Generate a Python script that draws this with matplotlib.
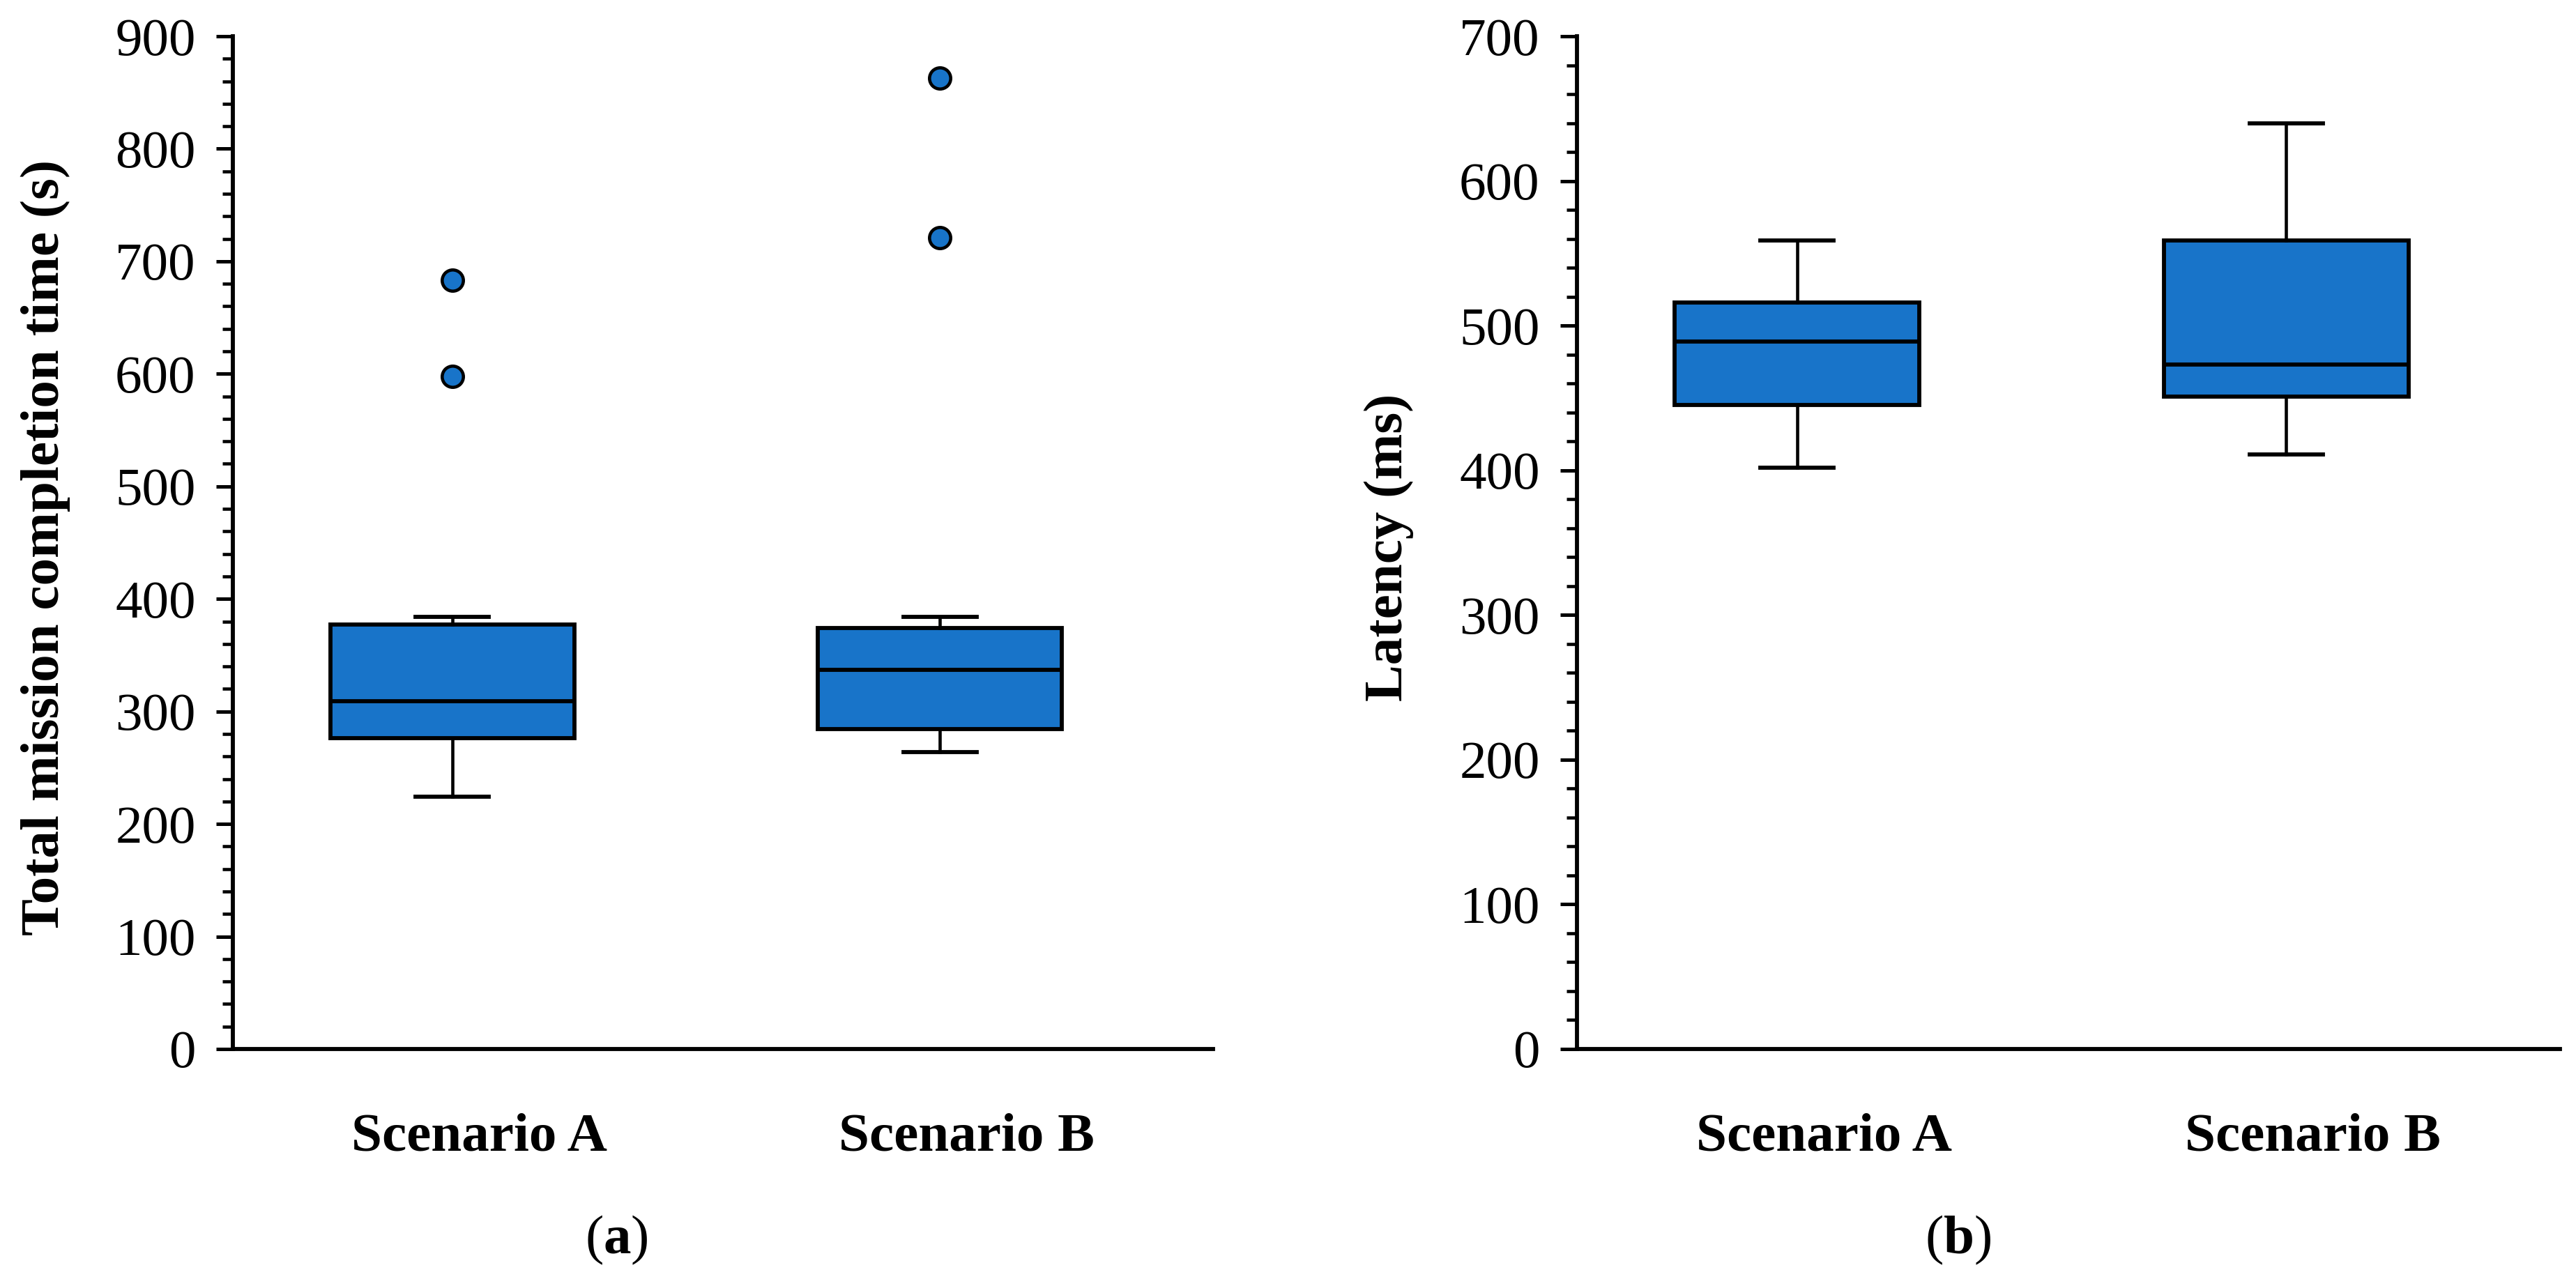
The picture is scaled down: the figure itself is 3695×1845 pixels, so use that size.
import matplotlib
matplotlib.use("Agg")
import matplotlib.pyplot as plt
from matplotlib.ticker import MultipleLocator

plt.rcParams['font.family'] = ['Liberation Serif', 'DejaVu Serif']
plt.rcParams['mathtext.fontset'] = 'custom'
plt.rcParams['mathtext.rm'] = 'Liberation Serif'
plt.rcParams['mathtext.bf'] = 'Liberation Serif:bold'

scenarios = ["Scenario A", "Scenario B"]

# (a) total mission completion time (s)
time_whislo = [224, 264]
time_q1 = [276, 284]
time_med = [309, 337]
time_q3 = [377, 374]
time_whishi = [384, 384]
time_fliers = [[598, 683], [721, 863]]

# (b) latency (ms)
lat_whislo = [402, 411]
lat_q1 = [445, 451]
lat_med = [489, 473]
lat_q3 = [516, 559]
lat_whishi = [559, 640]
lat_fliers = [[], []]

box_color = "#1874C9"


def make_stats(lo, q1, med, q3, hi, fliers):
    stats = []
    for i in range(len(scenarios)):
        stats.append({"label": scenarios[i], "whislo": lo[i], "q1": q1[i], "med": med[i],
                      "q3": q3[i], "whishi": hi[i], "fliers": fliers[i]})
    return stats


def draw_panel(ax, stats, ymax, ylabel):
    ax.bxp(stats, positions=[1, 2], widths=0.5, capwidths=0.15, patch_artist=True,
           boxprops=dict(facecolor=box_color, edgecolor="black", linewidth=1.4),
           medianprops=dict(color="black", linewidth=1.4),
           whiskerprops=dict(color="black", linewidth=1.1),
           capprops=dict(color="black", linewidth=1.4),
           flierprops=dict(marker="o", markerfacecolor=box_color, markeredgecolor="black",
                           markersize=7.3, markeredgewidth=1.1))
    ax.set_xlim(0.55, 2.56)
    ax.set_ylim(0, ymax)
    # the category labels sit a little right of the box centres in the original
    ax.set_xticks([1.055, 2.055], scenarios)
    ax.yaxis.set_major_locator(MultipleLocator(100))
    ax.yaxis.set_minor_locator(MultipleLocator(20))
    for s in ["top", "right"]:
        ax.spines[s].set_visible(False)
    for s in ["left", "bottom"]:
        ax.spines[s].set_linewidth(1.4)
    ax.tick_params(axis="y", which="major", length=5.8, width=1.2, labelsize=18.5, pad=7)
    ax.tick_params(axis="y", which="minor", length=3.6, width=1.1)
    ax.tick_params(axis="x", length=0, pad=22)
    for lab in ax.get_xticklabels():
        lab.set_fontsize(19)
        lab.set_fontweight("bold")
    ax.set_ylabel(ylabel, fontsize=19, fontweight="bold")
    ax.yaxis.set_label_coords(-0.166, 0.495)


fig = plt.figure(figsize=(3695 / 300, 1845 / 300), dpi=300)
ax1 = fig.add_axes([0.0904, 0.1843, 0.3805, 0.7875])
ax2 = fig.add_axes([0.6122, 0.1843, 0.3816, 0.7875])

draw_panel(ax1, make_stats(time_whislo, time_q1, time_med, time_q3, time_whishi, time_fliers),
           900, "Total mission completion time (s)")
draw_panel(ax2, make_stats(lat_whislo, lat_q1, lat_med, lat_q3, lat_whishi, lat_fliers),
           700, "Latency (ms)")

fig.text(884 / 3695, 1 - 1779 / 1845, r"($\mathbf{a}$)", fontsize=19, ha="center", va="center")
fig.text(2809 / 3695, 1 - 1779 / 1845, r"($\mathbf{b}$)", fontsize=19, ha="center", va="center")

fig.savefig("out.png", dpi=300)
